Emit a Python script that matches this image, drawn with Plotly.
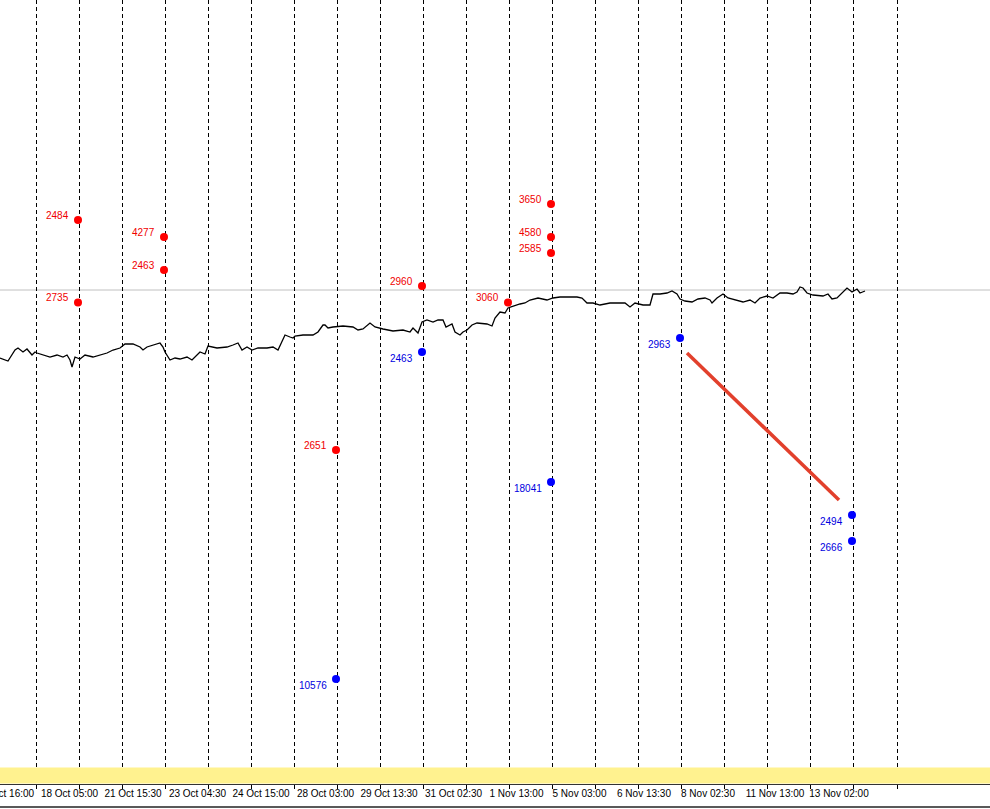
import plotly.graph_objects as go

# ---------------- data ----------------
# price series (bar index, price)
bar_idx = [0, 8, 15, 18, 23, 27, 32, 35, 37, 43, 50, 57, 63, 67, 70, 72, 75, 80, 85, 93,
           100, 107, 113, 120, 125, 133, 140, 143, 147, 153, 160, 163, 165, 170, 175, 180,
           187, 192, 197, 200, 205, 208, 217, 227, 233, 238, 242, 247, 252, 258, 267, 273,
           278, 282, 285, 290, 293, 295, 303, 313, 318, 323, 325, 328, 333, 343, 353, 358,
           363, 370, 375, 383, 393, 403, 410, 413, 418, 422, 427, 433, 438, 443, 446, 452,
           455, 460, 463, 467, 472, 477, 487, 492, 495, 500, 505, 508, 513, 520, 525, 530,
           538, 547, 553, 560, 570, 577, 582, 587, 593, 600, 610, 620, 625, 630, 635, 643,
           650, 653, 660, 667, 672, 677, 680, 685, 692, 698, 705, 710, 712, 717, 723, 728,
           737, 743, 750, 755, 760, 767, 773, 780, 787, 793, 797, 800, 803, 807, 813, 823,
           828, 832, 837, 842, 847, 852, 857, 860, 865]
price = [642, 639, 650, 652, 648, 651, 645, 648, 647, 645, 643, 645, 643, 645, 640, 633, 643, 641, 645, 643,
         645, 647, 650, 652, 656, 656, 653, 650, 653, 655, 657, 653, 648, 640, 642, 641,
         643, 640, 645, 648, 646, 654, 652, 653, 655, 657, 650, 653, 650, 652, 652, 653,
         650, 658, 665, 663, 662, 664, 665, 665, 668, 675, 675, 672, 673, 674, 673, 670,
         671, 677, 673, 671, 669, 670, 668, 672, 667, 678, 680, 678, 680, 680, 673, 676,
         668, 665, 668, 670, 675, 677, 676, 674, 682, 688, 687, 692, 694, 696, 697, 700,
         702, 700, 702, 703, 703, 703, 702, 697, 697, 695, 697, 697, 697, 693, 697, 695,
         695, 706, 706, 707, 709, 706, 701, 699, 698, 701, 702, 700, 697, 702, 706, 702,
         700, 698, 700, 697, 702, 704, 702, 707, 707, 706, 708, 713, 712, 707, 705, 704,
         706, 701, 702, 707, 712, 708, 711, 707, 709]

bid_level = 710

# sell signals (red)
red_x = [78, 78, 164, 164, 336, 422, 508, 551, 551, 551]
red_y = [780, 697.5, 763, 730, 550, 714, 697.5, 796, 763, 747]
red_txt = ["2484", "2735", "4277", "2463", "2651", "2960", "3060", "3650", "4580", "2585"]

# buy signals (blue)
blue_x = [336, 422, 551, 680, 852, 852]
blue_y = [321, 648, 518, 662, 485, 459]
blue_txt = ["10576", "2463", "18041", "2963", "2494", "2666"]

# trend line
trend_x = [687, 839]
trend_y = [647, 500]

# vertical grid (bar index) and time labels
grid_x = [36, 79, 122, 165, 208, 251, 294, 337, 380, 423, 466, 509, 552, 595, 638,
          681, 724, 767, 810, 853, 897]
tick_pos = [5.5, 69.5, 133, 197.5, 261, 325.5, 389, 453.5, 516.5, 579.5, 644, 708, 775, 839]
tick_txt = ["17 Oct 16:00", "18 Oct 05:00", "21 Oct 15:30", "23 Oct 04:30", "24 Oct 15:00",
            "28 Oct 03:00", "29 Oct 13:30", "31 Oct 02:30", "1 Nov 13:00", "5 Nov 03:00",
            "6 Nov 13:30", "8 Nov 02:30", "11 Nov 13:00", "13 Nov 02:00"]

# ---------------- figure ----------------
W, H = 990, 809
PLOT_BOTTOM = 784  # pixel row of the time axis line
FONT = "Liberation Sans Narrow, Liberation Sans, Arial, sans-serif"

fig = go.Figure()

fig.add_trace(go.Scatter(x=bar_idx, y=price, mode="lines",
                         line=dict(color="black", width=1.3), hoverinfo="skip"))
fig.add_trace(go.Scatter(x=trend_x, y=trend_y, mode="lines",
                         line=dict(color="#e2402c", width=3.5), hoverinfo="skip"))
fig.add_trace(go.Scatter(x=red_x, y=red_y, mode="markers",
                         marker=dict(color="#ff0000", size=8), hoverinfo="skip"))
fig.add_trace(go.Scatter(x=blue_x, y=blue_y, mode="markers",
                         marker=dict(color="#0000ff", size=8), hoverinfo="skip"))

annos = []
for x, y, t in zip(red_x, red_y, red_txt):
    annos.append(dict(x=x, y=y, text=t, showarrow=False, xanchor="right", yanchor="middle",
                      xshift=-7, yshift=5, font=dict(family=FONT, size=10, color="#f00000")))
for x, y, t in zip(blue_x, blue_y, blue_txt):
    annos.append(dict(x=x, y=y, text=t, showarrow=False, xanchor="right", yanchor="middle",
                      xshift=-7, yshift=-6, font=dict(family=FONT, size=10, color="#0000e0")))

shapes = [
    # current price line
    dict(type="line", xref="paper", x0=0, x1=1, yref="y", y0=bid_level, y1=bid_level,
         line=dict(color="#c0c0c0", width=1), layer="below"),
    # yellow band above time axis
    dict(type="rect", xref="paper", x0=0, x1=1, yref="paper", y0=0.5 / PLOT_BOTTOM,
         y1=16.5 / PLOT_BOTTOM, fillcolor="#fff28f", line=dict(width=0), layer="above"),
    # bottom frame line
    dict(type="line", xref="paper", x0=0, x1=1, yref="paper",
         y0=-(807 - PLOT_BOTTOM) / PLOT_BOTTOM, y1=-(807 - PLOT_BOTTOM) / PLOT_BOTTOM,
         line=dict(color="#222222", width=1.5)),
]

fig.update_layout(
    width=W, height=H,
    margin=dict(l=0, r=0, t=0, b=H - PLOT_BOTTOM, autoexpand=False),
    paper_bgcolor="white", plot_bgcolor="white",
    showlegend=False,
    annotations=annos, shapes=shapes,
    xaxis=dict(range=[0, W], showgrid=False, zeroline=False, automargin=False,
               showline=True, linecolor="#333333", linewidth=1,
               tickmode="array", tickvals=tick_pos, ticktext=tick_txt, ticks="",
               ticklabeloverflow="allow",
               tickfont=dict(family=FONT, size=10, color="black"),
               minor=dict(tickmode="array", tickvals=grid_x, showgrid=True,
                          griddash="4px,3px", gridcolor="black", gridwidth=1,
                          ticks="outside", ticklen=4, tickcolor="black")),
    yaxis=dict(range=[1000 - PLOT_BOTTOM, 1000], visible=False, showgrid=False,
               zeroline=False, automargin=False),
)

fig.write_html("out.html", config={"displayModeBar": False},
               post_script="document.body.style.margin='0';document.body.style.overflow='hidden';")
